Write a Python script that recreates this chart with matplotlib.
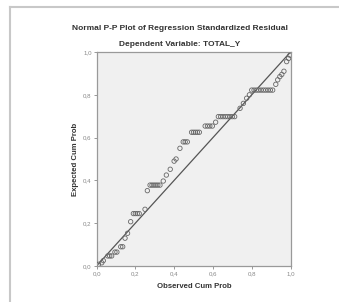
import matplotlib.pyplot as plt
from matplotlib.lines import Line2D

# Observed vs expected cumulative probabilities
obs_cum_prob = [
    0.010, 0.027, 0.035, 0.058, 0.068, 0.078, 0.095, 0.105, 0.125, 0.135,
    0.147, 0.160, 0.176, 0.190, 0.200, 0.210, 0.220, 0.250, 0.262,
    0.276, 0.286, 0.296, 0.306, 0.316, 0.327, 0.344, 0.360, 0.380,
    0.400, 0.410, 0.430, 0.447, 0.457, 0.468,
    0.490, 0.500, 0.510, 0.520, 0.530, 0.560, 0.572, 0.584, 0.597, 0.614,
    0.628, 0.640, 0.652, 0.664, 0.676, 0.688, 0.700, 0.712,
    0.740, 0.757, 0.774, 0.788,
    0.800, 0.812, 0.824, 0.836, 0.848, 0.860, 0.872, 0.884, 0.896, 0.908,
    0.924, 0.934, 0.945, 0.955, 0.966, 0.980, 0.990, 0.997,
]
exp_cum_prob = [
    0.008, 0.015, 0.025, 0.047, 0.047, 0.047, 0.065, 0.065, 0.090, 0.090,
    0.130, 0.153, 0.207, 0.245, 0.245, 0.245, 0.245, 0.265, 0.352,
    0.378, 0.378, 0.378, 0.378, 0.378, 0.378, 0.397, 0.425, 0.452,
    0.490, 0.500, 0.550, 0.580, 0.580, 0.580,
    0.625, 0.625, 0.625, 0.625, 0.625, 0.654, 0.654, 0.654, 0.654, 0.672,
    0.698, 0.698, 0.698, 0.698, 0.698, 0.698, 0.698, 0.698,
    0.737, 0.760, 0.784, 0.800,
    0.822, 0.822, 0.822, 0.822, 0.822, 0.822, 0.822, 0.822, 0.822, 0.822,
    0.849, 0.870, 0.885, 0.895, 0.910, 0.955, 0.970, 0.985,
]
ticks = [0.0, 0.2, 0.4, 0.6, 0.8, 1.0]
tick_labels = ["0,0", "0,2", "0,4", "0,6", "0,8", "1,0"]

plt.rcParams['font.family'] = ['Liberation Sans', 'DejaVu Sans']

fig = plt.figure(figsize=(3.39, 3.02), dpi=100)
ax = fig.add_axes([0.2847, 0.1192, 0.5723, 0.7086])
ax.set_facecolor("#f0f0f0")

# outer frame of the output window
fig.add_artist(Line2D([0.03, 1.0], [0.977, 0.977], color="#c8c8c8", lw=1.5))
fig.add_artist(Line2D([0.03, 0.03], [0.0, 0.977], color="#c8c8c8", lw=1.5))

ax.plot([0, 1], [0, 1], color="#555555", lw=0.9)
ax.scatter(obs_cum_prob, exp_cum_prob, s=10, facecolors="none",
           edgecolors="#666666", linewidths=0.6, zorder=3)

ax.set_xlim(0, 1)
ax.set_ylim(0, 1)
ax.set_xticks(ticks)
ax.set_xticklabels(tick_labels)
ax.set_yticks(ticks)
ax.set_yticklabels(tick_labels)
ax.tick_params(labelsize=4.4, colors="#888888", length=2, width=0.6, pad=1.5)
for s in ax.spines.values():
    s.set_color("#999999")
    s.set_linewidth(0.9)

fig.text(0.531, 0.906, "Normal P-P Plot of Regression Standardized Residual",
         ha="center", va="center", fontsize=6.0, fontweight="bold", color="#333333")
fig.text(0.531, 0.851, "Dependent Variable: TOTAL_Y",
         ha="center", va="center", fontsize=6.0, fontweight="bold", color="#333333")
fig.text(0.572, 0.050, "Observed Cum Prob", ha="center", va="center",
         fontsize=5.6, fontweight="bold", color="#333333")
fig.text(0.222, 0.473, "Expected Cum Prob", ha="center", va="center",
         rotation=90, fontsize=5.6, fontweight="bold", color="#333333")

fig.savefig("out.png", dpi=100)
